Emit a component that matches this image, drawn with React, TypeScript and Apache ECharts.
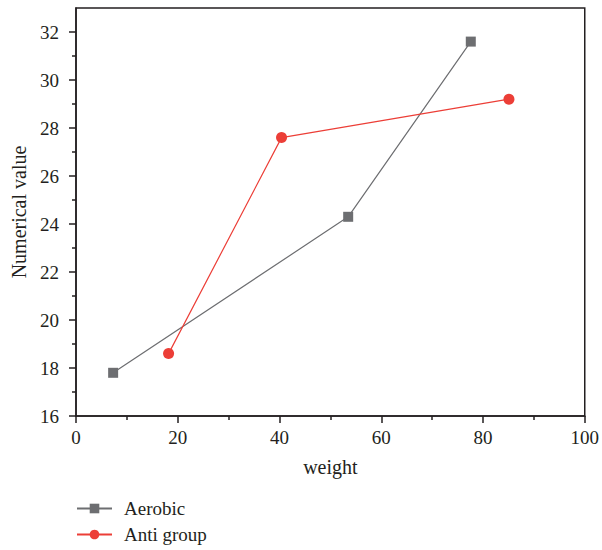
import React, { useEffect, useRef } from "react";
import * as echarts from "echarts";

const aerobicX = [7.3, 53.5, 77.6];
const aerobicY = [17.8, 24.3, 31.6];
const antiX = [18.2, 40.4, 85.1];
const antiY = [18.6, 27.6, 29.2];
const yMajorTicks = [16, 18, 20, 22, 24, 26, 28, 30, 32];
const yMinorTicks = [17, 19, 21, 23, 25, 27, 29, 31];

const FONT = "'Liberation Serif', 'DejaVu Serif', serif";
const AXIS_COLOR = "#231f20";
const FS = 19;
const NAME_FS = 20;

export default function App() {
  const ref = useRef<HTMLDivElement>(null);
  useEffect(() => {
    const chart = echarts.init(ref.current!, null, { renderer: "svg" });
    chart.setOption({
      animation: false,
      backgroundColor: "#ffffff",
      textStyle: { fontFamily: FONT },
      grid: {
        left: 76,
        right: 16,
        top: 8,
        bottom: 134,
        show: true,
        borderColor: AXIS_COLOR,
        borderWidth: 1.5,
      },
      legend: {
        orient: "vertical",
        left: 76,
        top: 499,
        padding: 0,
        itemWidth: 35,
        itemHeight: 12,
        itemGap: 7,
        textStyle: { fontFamily: FONT, fontSize: FS, color: "#231f20", padding: [0, 0, 0, 7] },
        data: ["Aerobic", "Anti group"],
      },
      xAxis: {
        type: "value",
        min: 0,
        max: 100,
        interval: 20,
        name: "weight",
        nameLocation: "middle",
        nameGap: 41,
        nameTextStyle: { fontFamily: FONT, fontSize: NAME_FS, color: "#231f20" },
        axisLine: { show: true, lineStyle: { color: AXIS_COLOR, width: 1.5 } },
        axisTick: { show: true, length: 7, lineStyle: { color: AXIS_COLOR, width: 1.5 } },
        minorTick: { show: true, splitNumber: 2, length: 4, lineStyle: { color: AXIS_COLOR, width: 1.5 } },
        axisLabel: { fontFamily: FONT, fontSize: FS, color: "#231f20", margin: 12 },
        splitLine: { show: false },
      },
      yAxis: [
        {
          type: "value",
          min: 16,
          max: 33,
          position: "left",
          name: "Numerical value",
          nameLocation: "middle",
          nameGap: 47,
          nameTextStyle: { fontFamily: FONT, fontSize: NAME_FS, color: "#231f20" },
          axisLine: { show: true, lineStyle: { color: AXIS_COLOR, width: 1.5 } },
          axisTick: {
            show: true,
            length: 7,
            customValues: yMajorTicks,
            lineStyle: { color: AXIS_COLOR, width: 1.5 },
          },
          axisLabel: {
            fontFamily: FONT,
            fontSize: FS,
            color: "#231f20",
            margin: 17,
            customValues: yMajorTicks,
          },
          splitLine: { show: false },
        },
        {
          type: "value",
          min: 16,
          max: 33,
          position: "left",
          axisLine: { show: false },
          axisTick: {
            show: true,
            length: 4,
            customValues: yMinorTicks,
            lineStyle: { color: AXIS_COLOR, width: 1.5 },
          },
          axisLabel: { show: false },
          splitLine: { show: false },
        },
      ],
      series: [
        {
          name: "Aerobic",
          type: "line",
          data: aerobicX.map((x, i) => [x, aerobicY[i]]),
          symbol: "rect",
          symbolSize: 10,
          color: "#6d6e71",
          lineStyle: { color: "#6d6e71", width: 1.2 },
          itemStyle: { color: "#6d6e71" },
        },
        {
          name: "Anti group",
          type: "line",
          data: antiX.map((x, i) => [x, antiY[i]]),
          symbol: "circle",
          symbolSize: 11,
          color: "#ec3e37",
          lineStyle: { color: "#ec3e37", width: 1.2 },
          itemStyle: { color: "#ec3e37" },
        },
      ],
    });
    return () => chart.dispose();
  }, []);
  return <div ref={ref} style={{ width: 602, height: 550, position: "absolute", left: 0, top: 0 }} />;
}
